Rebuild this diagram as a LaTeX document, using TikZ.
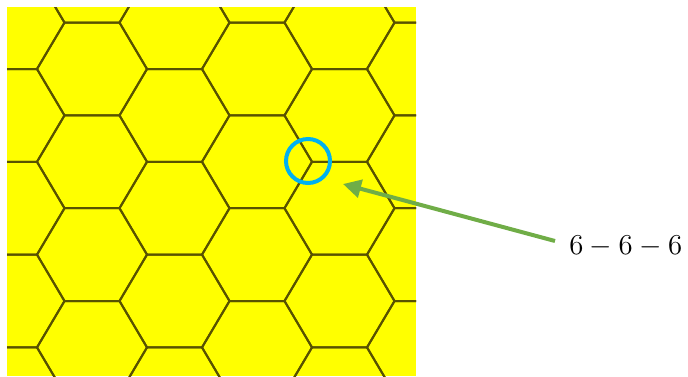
\documentclass[tikz,border=0pt]{standalone}
\usetikzlibrary{arrows.meta, calc}
\definecolor{honey}{RGB}{255,255,0}
\definecolor{hexline}{RGB}{88,82,0}
\definecolor{ringblue}{RGB}{0,176,240}
\definecolor{pointgreen}{RGB}{112,173,71}

\begin{document}
\begin{tikzpicture}[
    x=0.5pt, y=-0.5pt,
    >=Stealth,
    hexedge/.style={draw=hexline, line width=1pt, line join=round},
    ring/.style={draw=ringblue, circle, line width=2pt, minimum size=22pt,
                 inner sep=0pt},
    pointer/.style={->, draw=pointgreen, line width=2pt,
                    >={Triangle[length=9pt, width=9pt]}},
    tag/.style={font=\fontsize{14}{16}\selectfont, inner xsep=7pt,
                inner ysep=0pt, anchor=west}
  ]
  \useasboundingbox (0,0) rectangle (688,376);
  \fill[honey] (7,7) rectangle (416,376);

  % honeycomb, one hexagon per (column, row)
  \begin{scope}
    \clip (7,7) rectangle (416,376);
    \foreach \j in {-1,...,4}
      \foreach \k in {-3,...,5} {
        \pgfmathsetmacro{\cx}{92+82.5*\j}
        \pgfmathsetmacro{\cy}{69+46.4*\j+92.8*\k}
        \draw[hexedge, shift={(\cx,\cy)}] (-55,0) -- (-27.5,-46.4)
          -- (27.5,-46.4) -- (55,0) -- (27.5,46.4) -- (-27.5,46.4) -- cycle;
      }
  \end{scope}

  \node[ring] (vertex) at (308,161) {};
  \coordinate (tip) at (343,184);
  \node[tag] (lbl) at (555,246) {$6-6-6$};

  \draw[pointer] ($(lbl.west)+(0,-5)$) -- (tip);
\end{tikzpicture}
\end{document}
